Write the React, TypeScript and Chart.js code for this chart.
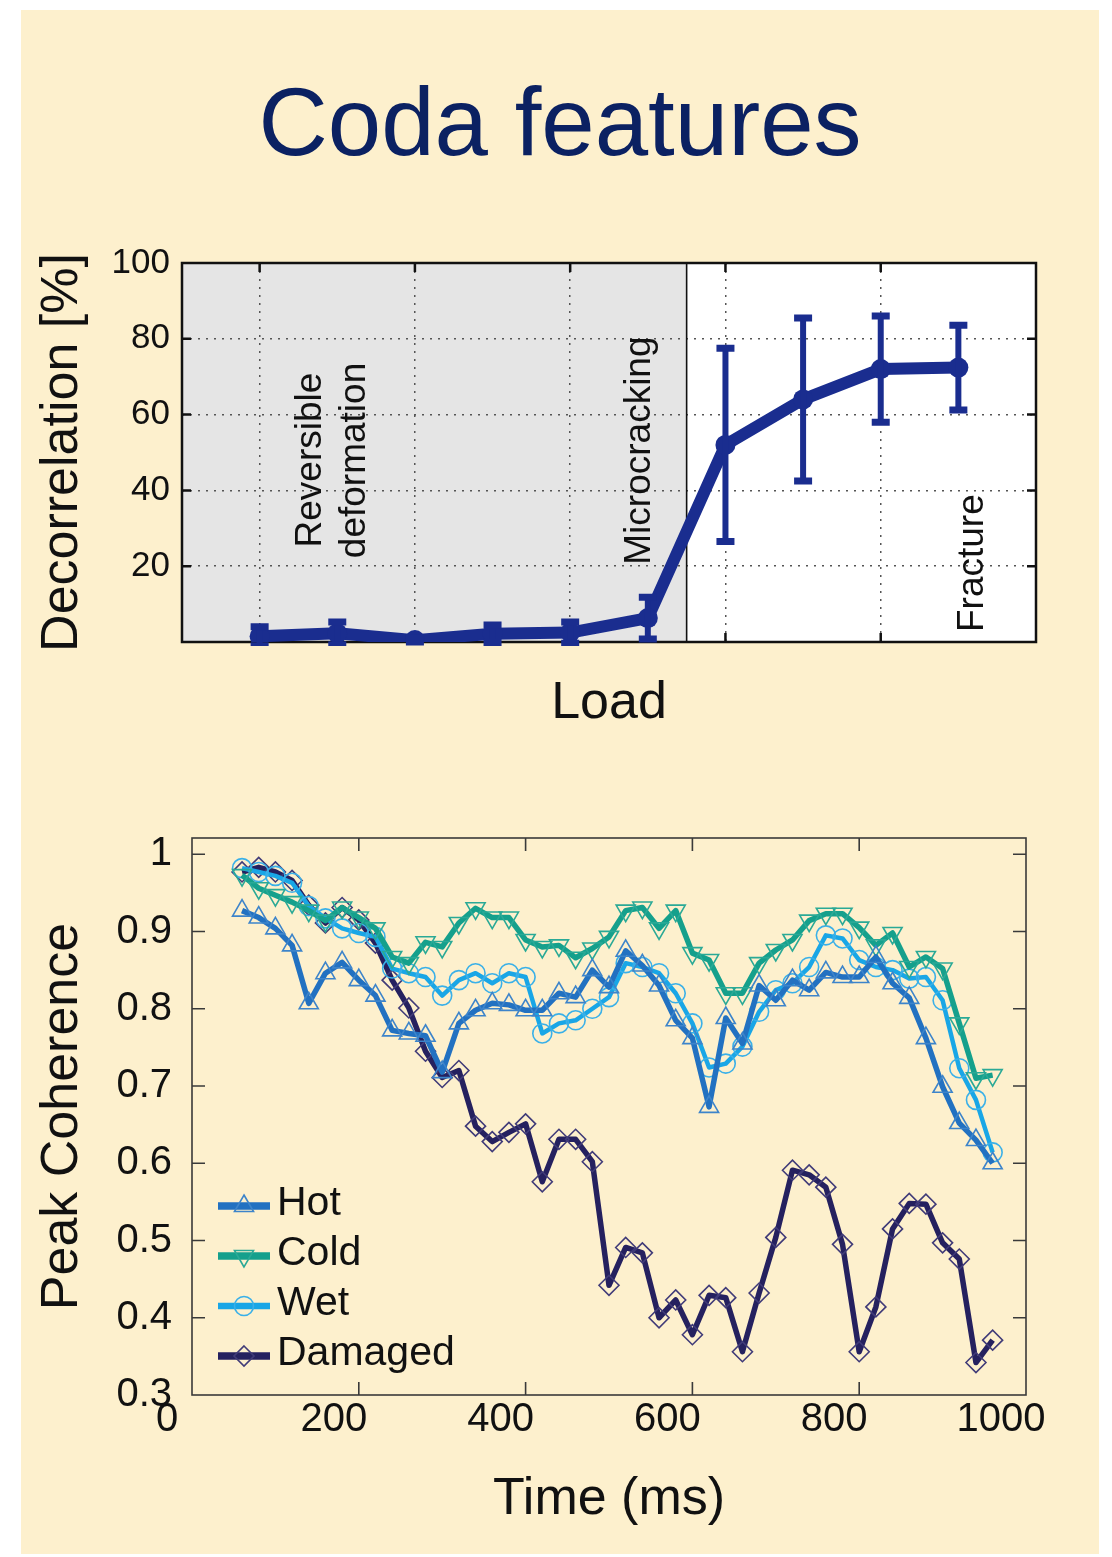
import React, { useEffect, useRef } from 'react';
import { Chart, registerables } from 'chart.js';

Chart.register(...registerables);

const FONT = '"Liberation Sans", Arial, Helvetica, sans-serif';
const CREAM = '#FDF0CD';

// ---------- Top chart: decorrelation vs load ----------
const loadSteps = [1, 2, 3, 4, 5, 6, 7, 8, 9, 10];
const decorrelation = [1.5, 2.3, 0.5, 2.2, 2.5, 6.3, 52, 64, 72, 72.4];
const decorrelationError = [2.5, 3, 0.5, 2.3, 2.8, 5.5, 25.5, 21.5, 14, 11.2];
const loadGridTicks = [1, 3, 5, 7, 9];
const decorrelationTicks = [0, 20, 40, 60, 80, 100];
const reversibleLimit = 6.5;
const phaseLabels = ['Reversible', 'deformation', 'Microcracking', 'Fracture'];
const phaseLabelX = [1.66, 2.23, 5.9, 10.19];
const phaseLabelY = [48, 47.9, 50.5, 20.8];

// ---------- Bottom chart: peak coherence vs time ----------
const timeMs = [
  60, 80, 100, 120, 140, 160, 180, 200, 220, 240,
  260, 280, 300, 320, 340, 360, 380, 400, 420, 440,
  460, 480, 500, 520, 540, 560, 580, 600, 620, 640,
  660, 680, 700, 720, 740, 760, 780, 800, 820, 840,
  860, 880, 900, 920, 940, 960,
];
const hot = [
  0.927, 0.918, 0.904, 0.882, 0.807, 0.846, 0.86, 0.837, 0.817, 0.772,
  0.768, 0.765, 0.718, 0.781, 0.798, 0.807, 0.805, 0.798, 0.798, 0.82,
  0.815, 0.85, 0.828, 0.875, 0.856, 0.83, 0.785, 0.762, 0.673, 0.788,
  0.755, 0.83, 0.811, 0.837, 0.824, 0.847, 0.841, 0.841, 0.867, 0.833,
  0.814, 0.762, 0.699, 0.652, 0.63, 0.6,
];
const cold = [
  0.973, 0.956, 0.947, 0.938, 0.927, 0.914, 0.931, 0.918, 0.904, 0.867,
  0.859, 0.886, 0.88, 0.911, 0.93, 0.918, 0.918, 0.889, 0.88, 0.882,
  0.866, 0.878, 0.893, 0.927, 0.931, 0.904, 0.927, 0.872, 0.863, 0.82,
  0.82, 0.859, 0.876, 0.889, 0.914, 0.923, 0.923, 0.905, 0.882, 0.898,
  0.854, 0.867, 0.852, 0.781, 0.71, 0.714,
];
const wet = [
  0.982, 0.977, 0.972, 0.963, 0.933, 0.917, 0.904, 0.898, 0.893, 0.852,
  0.846, 0.841, 0.817, 0.837, 0.846, 0.833, 0.846, 0.841, 0.768, 0.781,
  0.785, 0.8, 0.815, 0.859, 0.854, 0.846, 0.82, 0.781, 0.724, 0.729,
  0.751, 0.796, 0.824, 0.833, 0.854, 0.895, 0.891, 0.863, 0.854, 0.85,
  0.839, 0.841, 0.811, 0.723, 0.682, 0.614,
];
const damaged = [
  0.977, 0.983, 0.977, 0.966, 0.934, 0.911, 0.931, 0.915, 0.885, 0.837,
  0.801, 0.745, 0.711, 0.72, 0.648, 0.628, 0.64, 0.651, 0.576, 0.631,
  0.631, 0.602, 0.442, 0.491, 0.484, 0.4, 0.423, 0.378, 0.429, 0.426,
  0.356, 0.432, 0.504, 0.591, 0.585, 0.569, 0.495, 0.356, 0.414, 0.515,
  0.548, 0.547, 0.497, 0.476, 0.342, 0.371,
];
const seriesNames = ['Hot', 'Cold', 'Wet', 'Damaged'];
const timeTicks = [0, 200, 400, 600, 800, 1000];

// ---------- helpers ----------
function drawMarker(ctx: any, style: string, x: number, y: number, r: number, rotationDeg: number) {
  const rad = ((rotationDeg || 0) * Math.PI) / 180;
  ctx.beginPath();
  if (style === 'circle') {
    ctx.arc(x, y, r, 0, Math.PI * 2);
  } else if (style === 'triangle') {
    for (let k = 0; k < 3; k++) {
      const a = rad + (k * 2 * Math.PI) / 3;
      const px = x + Math.sin(a) * r;
      const py = y - Math.cos(a) * r;
      if (k === 0) ctx.moveTo(px, py);
      else ctx.lineTo(px, py);
    }
    ctx.closePath();
  } else {
    ctx.moveTo(x, y - r);
    ctx.lineTo(x + r, y);
    ctx.lineTo(x, y + r);
    ctx.lineTo(x - r, y);
    ctx.closePath();
  }
  ctx.stroke();
}

const framePlugin = {
  id: 'frame',
  beforeDatasetsDraw(chart: any, _args: any, opts: any) {
    const { ctx, chartArea: a, scales } = chart;
    ctx.save();
    ctx.strokeStyle = opts.color;
    ctx.lineWidth = opts.width;
    ctx.setLineDash([]);
    const L = opts.tickLength;
    ctx.beginPath();
    scales.y.ticks.forEach((t: any) => {
      const p = scales.y.getPixelForValue(t.value);
      if (p <= a.top + 1 || p >= a.bottom - 1) return;
      ctx.moveTo(a.left, p);
      ctx.lineTo(a.left + L, p);
      ctx.moveTo(a.right, p);
      ctx.lineTo(a.right - L, p);
    });
    scales.x.ticks.forEach((t: any) => {
      const p = scales.x.getPixelForValue(t.value);
      if (p <= a.left + 1 || p >= a.right - 1) return;
      ctx.moveTo(p, a.bottom);
      ctx.lineTo(p, a.bottom - L);
      ctx.moveTo(p, a.top);
      ctx.lineTo(p, a.top + L);
    });
    ctx.stroke();
    ctx.strokeRect(a.left, a.top, a.right - a.left, a.bottom - a.top);
    ctx.restore();
  },
};

const phasePlugin = {
  id: 'phases',
  beforeDraw(chart: any) {
    const { ctx, chartArea: a, scales } = chart;
    ctx.save();
    ctx.fillStyle = '#ffffff';
    ctx.fillRect(a.left, a.top, a.right - a.left, a.bottom - a.top);
    const xe = scales.x.getPixelForValue(reversibleLimit);
    ctx.fillStyle = '#e5e5e5';
    ctx.fillRect(a.left, a.top, xe - a.left, a.bottom - a.top);
    ctx.restore();
  },
  beforeDatasetsDraw(chart: any) {
    const { ctx, chartArea: a, scales } = chart;
    ctx.save();
    const xe = scales.x.getPixelForValue(reversibleLimit);
    ctx.strokeStyle = '#111';
    ctx.lineWidth = 1.6;
    ctx.beginPath();
    ctx.moveTo(xe, a.top);
    ctx.lineTo(xe, a.bottom);
    ctx.stroke();
    ctx.fillStyle = '#111';
    ctx.font = `37px ${FONT}`;
    ctx.textAlign = 'center';
    ctx.textBaseline = 'middle';
    phaseLabels.forEach((txt, i) => {
      const px = scales.x.getPixelForValue(phaseLabelX[i]);
      const py = scales.y.getPixelForValue(phaseLabelY[i]);
      ctx.save();
      ctx.translate(px, py);
      ctx.rotate(-Math.PI / 2);
      ctx.fillText(txt, 0, 0);
      ctx.restore();
    });
    ctx.restore();
  },
};

const errorBarPlugin = {
  id: 'errorBars',
  afterDatasetsDraw(chart: any, _args: any, opts: any) {
    const { ctx, chartArea: a, scales } = chart;
    ctx.save();
    ctx.beginPath();
    ctx.rect(a.left, a.top - 10, a.right - a.left, a.bottom - a.top + 14);
    ctx.clip();
    ctx.strokeStyle = opts.color;
    ctx.lineCap = 'butt';
    loadSteps.forEach((s, i) => {
      const px = scales.x.getPixelForValue(s);
      const top = scales.y.getPixelForValue(decorrelation[i] + decorrelationError[i]);
      const bot = scales.y.getPixelForValue(decorrelation[i] - decorrelationError[i]);
      ctx.lineWidth = 6;
      ctx.beginPath();
      ctx.moveTo(px, top);
      ctx.lineTo(px, bot);
      ctx.stroke();
      ctx.lineWidth = 7;
      ctx.beginPath();
      ctx.moveTo(px - 9, top);
      ctx.lineTo(px + 9, top);
      ctx.moveTo(px - 9, bot);
      ctx.lineTo(px + 9, bot);
      ctx.stroke();
    });
    ctx.restore();
  },
};

const legendPlugin = {
  id: 'matlabLegend',
  afterDatasetsDraw(chart: any, _args: any, opts: any) {
    const { ctx, chartArea: a } = chart;
    const x0 = a.left + opts.offsetX;
    let y = a.top + opts.offsetY;
    chart.data.datasets.forEach((ds: any) => {
      ctx.save();
      ctx.strokeStyle = ds.borderColor;
      ctx.lineWidth = ds.borderWidth + 2;
      ctx.beginPath();
      ctx.moveTo(x0, y);
      ctx.lineTo(x0 + 52, y);
      ctx.stroke();
      ctx.strokeStyle = ds.pointBorderColor;
      ctx.lineWidth = ds.pointBorderWidth;
      drawMarker(ctx, ds.pointStyle, x0 + 26, y, ds.pointRadius, ds.pointRotation || 0);
      ctx.fillStyle = '#111';
      ctx.font = `41px ${FONT}`;
      ctx.textAlign = 'left';
      ctx.textBaseline = 'middle';
      ctx.fillText(ds.label, x0 + 59, y - 2);
      ctx.restore();
      y += opts.rowHeight;
    });
  },
};

function topConfig(): any {
  return {
    type: 'line',
    data: {
      datasets: [
        {
          label: 'Decorrelation',
          data: loadSteps.map((x, i) => ({ x, y: decorrelation[i] })),
          borderColor: '#1a2d8f',
          backgroundColor: '#1a2d8f',
          borderWidth: 12,
          borderJoinStyle: 'round',
          borderCapStyle: 'round',
          pointRadius: 10,
          pointBorderWidth: 0,
          pointBackgroundColor: '#1a2d8f',
          tension: 0,
        },
      ],
    },
    options: {
      responsive: false,
      maintainAspectRatio: false,
      animation: false,
      events: [],
      layout: { padding: { top: 263, right: 76, bottom: 0, left: 0 } },
      plugins: {
        legend: { display: false },
        tooltip: { enabled: false },
        frame: { color: '#111', width: 2.5, tickLength: 9 },
        errorBars: { color: '#1a2d8f' },
      },
      scales: {
        x: {
          type: 'linear',
          min: 0,
          max: 11,
          afterBuildTicks: (scale: any) => {
            scale.ticks = loadGridTicks.map((v) => ({ value: v }));
          },
          afterFit: (scale: any) => {
            scale.height = 138;
          },
          ticks: { display: false },
          grid: { color: '#555', lineWidth: 1.5, drawTicks: false },
          border: { display: false, dash: [2, 6] },
          title: {
            display: true,
            text: 'Load',
            color: '#111',
            font: { family: FONT, size: 52 },
            padding: { top: 0, bottom: 45 },
          },
        },
        y: {
          type: 'linear',
          min: 0,
          max: 100,
          afterBuildTicks: (scale: any) => {
            scale.ticks = decorrelationTicks.map((v) => ({ value: v }));
          },
          afterFit: (scale: any) => {
            scale.width = 182;
          },
          ticks: {
            color: '#111',
            padding: 12,
            font: { family: FONT, size: 35 },
            callback: (v: any) => (v === 0 ? '' : String(v)),
          },
          grid: { color: '#555', lineWidth: 1.5, drawTicks: false },
          border: { display: false, dash: [2, 6] },
          title: {
            display: true,
            text: 'Decorrelation [%]',
            color: '#111',
            font: { family: FONT, size: 52 },
            padding: { top: 31, bottom: 0 },
          },
        },
      },
    },
    plugins: [phasePlugin, framePlugin, errorBarPlugin],
  };
}

const seriesStyle = [
  { line: '#2271c1', marker: '#3d84ca', style: 'triangle', radius: 11, rotation: 0, width: 5.5 },
  { line: '#15a08c', marker: '#2aa996', style: 'triangle', radius: 11, rotation: 180, width: 5.5 },
  { line: '#19a6e6', marker: '#3ab0e8', style: 'circle', radius: 9.5, rotation: 0, width: 4.5 },
  { line: '#25215f', marker: '#403b78', style: 'rectRot', radius: 10, rotation: 0, width: 5.5 },
];

function bottomConfig(): any {
  const values = [hot, cold, wet, damaged];
  return {
    type: 'line',
    data: {
      datasets: values.map((vals, k) => ({
        label: seriesNames[k],
        data: timeMs.map((x, i) => ({ x, y: vals[i] })),
        borderColor: seriesStyle[k].line,
        borderWidth: seriesStyle[k].width,
        backgroundColor: 'transparent',
        pointStyle: seriesStyle[k].style,
        pointRadius: seriesStyle[k].radius,
        pointRotation: seriesStyle[k].rotation,
        pointBorderColor: seriesStyle[k].marker,
        pointBackgroundColor: 'transparent',
        pointBorderWidth: 1.6,
        borderJoinStyle: 'round',
        tension: 0,
      })),
    },
    options: {
      responsive: false,
      maintainAspectRatio: false,
      animation: false,
      events: [],
      layout: { padding: { top: 58, right: 86, bottom: 0, left: 0 } },
      plugins: {
        legend: { display: false },
        tooltip: { enabled: false },
        frame: { color: '#3a3a3a', width: 1.6, tickLength: 13 },
        matlabLegend: { offsetX: 26, offsetY: 368, rowHeight: 50 },
      },
      scales: {
        x: {
          type: 'linear',
          min: 0,
          max: 1000,
          afterBuildTicks: (scale: any) => {
            scale.ticks = timeTicks.map((v) => ({ value: v }));
          },
          afterFit: (scale: any) => {
            scale.height = 162;
          },
          ticks: {
            color: '#111',
            padding: 1,
            labelOffset: -25,
            maxRotation: 0,
            autoSkip: false,
            font: { family: FONT, size: 40 },
            callback: (v: any) => String(v),
          },
          grid: { display: false, drawTicks: false },
          border: { display: false },
          title: {
            display: true,
            text: 'Time (ms)',
            color: '#111',
            font: { family: FONT, size: 52 },
            padding: { top: 0, bottom: 26 },
          },
        },
        y: {
          type: 'linear',
          min: 0.3,
          max: 1.021,
          ticks: {
            stepSize: 0.1,
            includeBounds: false,
            color: '#111',
            padding: 20,
            font: { family: FONT, size: 40 },
            callback: (v: any) => String(Math.round(v * 10) / 10),
          },
          afterFit: (scale: any) => {
            scale.width = 192;
          },
          grid: { display: false, drawTicks: false },
          border: { display: false },
          title: {
            display: true,
            text: 'Peak Coherence',
            color: '#111',
            font: { family: FONT, size: 52 },
            padding: { top: 31, bottom: 0 },
          },
        },
      },
    },
    plugins: [framePlugin, legendPlugin],
  };
}

export default function App() {
  const topRef = useRef<HTMLCanvasElement>(null);
  const botRef = useRef<HTMLCanvasElement>(null);

  useEffect(() => {
    Chart.defaults.font.family = FONT;
    const c1 = new Chart(topRef.current as HTMLCanvasElement, topConfig());
    const c2 = new Chart(botRef.current as HTMLCanvasElement, bottomConfig());
    return () => {
      c1.destroy();
      c2.destroy();
    };
  }, []);

  return (
    <div
      style={{
        position: 'absolute',
        left: 0,
        top: 0,
        width: 1112,
        height: 1557,
        background: '#ffffff',
        overflow: 'hidden',
      }}
    >
      <div
        style={{
          position: 'absolute',
          left: 21,
          top: 10,
          width: 1078,
          height: 1544,
          background: CREAM,
        }}
      />
      <div
        style={{
          position: 'absolute',
          left: 0,
          top: 74,
          width: 1120,
          textAlign: 'center',
          fontFamily: FONT,
          fontSize: 96,
          lineHeight: 1,
          color: '#0b2162',
          whiteSpace: 'nowrap',
        }}
      >
        Coda features
      </div>
      <canvas
        ref={topRef}
        width={1112}
        height={780}
        style={{ position: 'absolute', left: 0, top: 0, width: 1112, height: 780 }}
      />
      <canvas
        ref={botRef}
        width={1112}
        height={777}
        style={{ position: 'absolute', left: 0, top: 780, width: 1112, height: 777 }}
      />
    </div>
  );
}
